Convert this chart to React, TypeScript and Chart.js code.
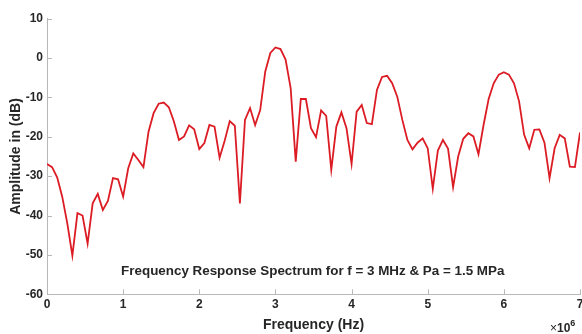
import React, { useEffect, useRef } from 'react';
import { Chart, registerables } from 'chart.js';

Chart.register(...registerables);

// Sampling grid of the spectrum (MHz between samples)
const FREQ_STEP_MHZ = 1 / 15;

// Amplitude in dB, one value per frequency sample
const amplitudeDb = [
  -26.9, -27.7, -30.3, -35.2, -42.0, -50.2, -39.4, -40.0, -47.1, -36.9,
  -34.5, -38.6, -36.3, -30.5, -30.8, -35.2, -28.0, -24.2, -25.9, -27.7,
  -18.7, -14.0, -11.6, -11.3, -12.5, -16.1, -20.8, -19.9, -17.1, -18.1,
  -23.1, -21.6, -17.0, -17.4, -25.3, -21.0, -16.0, -17.2, -36.9, -15.7,
  -12.7, -17.0, -13.2, -3.4, 1.3, 2.7, 2.3, -0.4, -7.6, -26.3,
  -10.4, -10.4, -17.8, -20.1, -13.3, -14.7, -28.4, -17.4, -13.8, -17.8,
  -26.9, -13.6, -11.9, -16.5, -16.8, -8.1, -4.8, -4.5, -6.4, -9.8,
  -15.7, -20.8, -23.2, -21.5, -20.4, -22.9, -33.2, -23.5, -20.8, -23.0,
  -32.8, -25.0, -20.5, -19.1, -19.9, -24.4, -17.0, -10.4, -6.4, -4.2,
  -3.6, -4.2, -6.4, -11.0, -19.5, -22.9, -18.2, -18.1, -21.5, -30.5,
  -22.9, -19.5, -20.4, -27.6, -27.7, -18.9,
];

const xTickValues = [0, 1, 2, 3, 4, 5, 6, 7];
const yTickValues = [10, 0, -10, -20, -30, -40, -50, -60];

const ANNOTATION = 'Frequency Response Spectrum for f = 3 MHz & Pa = 1.5 MPa';
const ANNOT_X_MHZ = 3.49;
const ANNOT_Y_DB = -54.1;

const FONT = '"Liberation Sans", Arial, Helvetica, sans-serif';
const TEXT = '#262626';
const AXIS = '#b8b8b8';
const LINE = '#dc1c24';

const decorPlugin = {
  id: 'decor',
  afterDraw(chart: any) {
    const { ctx, chartArea, scales } = chart;
    const xs = scales.x;
    const ys = scales.y;
    ctx.save();
    ctx.strokeStyle = AXIS;
    ctx.lineWidth = 1;
    ctx.beginPath();
    for (const v of xTickValues) {
      const px = Math.round(xs.getPixelForValue(v)) + 0.5;
      ctx.moveTo(px, chartArea.bottom);
      ctx.lineTo(px, chartArea.bottom - 5);
    }
    for (const v of yTickValues) {
      const py = Math.round(ys.getPixelForValue(v)) + 0.5;
      ctx.moveTo(chartArea.left, py);
      ctx.lineTo(chartArea.left + 5, py);
    }
    ctx.stroke();

    // annotation text inside the plot
    ctx.fillStyle = TEXT;
    ctx.font = `bold 13.4px ${FONT}`;
    ctx.textAlign = 'center';
    ctx.textBaseline = 'middle';
    ctx.fillText(ANNOTATION, xs.getPixelForValue(ANNOT_X_MHZ), ys.getPixelForValue(ANNOT_Y_DB));

    // exponent label x10^6
    ctx.textAlign = 'left';
    ctx.textBaseline = 'alphabetic';
    let x = chart.width - 32;
    const base = 332;
    ctx.font = `12px ${FONT}`;
    ctx.fillText('×', x, base);
    x += ctx.measureText('×').width;
    ctx.font = `bold 12px ${FONT}`;
    ctx.fillText('10', x, base);
    x += ctx.measureText('10').width;
    ctx.font = `bold 9px ${FONT}`;
    ctx.fillText('6', x, base - 6);
    ctx.restore();
  },
};

export default function App() {
  const ref = useRef<HTMLCanvasElement | null>(null);

  useEffect(() => {
    if (!ref.current) return;
    const points = amplitudeDb.map((y, i) => ({ x: i * FREQ_STEP_MHZ, y }));
    const chart = new Chart(ref.current, {
      type: 'line',
      data: {
        datasets: [
          {
            data: points,
            borderColor: LINE,
            borderWidth: 1.8,
            pointRadius: 0,
            tension: 0,
            fill: false,
          },
        ],
      },
      options: {
        animation: false,
        responsive: false,
        devicePixelRatio: 1,
        layout: { padding: { top: 18.7, right: 2, left: 0, bottom: 0 } },
        plugins: {
          legend: { display: false },
          tooltip: { enabled: false },
        },
        scales: {
          x: {
            type: 'linear',
            min: 0,
            max: 7,
            afterFit: (s: any) => {
              s.height = 39.7;
              s.paddingLeft = 0;
              s.paddingRight = 0;
            },
            afterBuildTicks: (s: any) => {
              s.ticks = xTickValues.map((v) => ({ value: v }));
            },
            grid: { display: false, drawTicks: false },
            border: { display: true, color: AXIS, width: 1 },
            ticks: {
              color: TEXT,
              font: { family: FONT, size: 12, weight: 'bold' },
              padding: 3,
              maxRotation: 0,
              autoSkip: false,
            },
            title: {
              display: true,
              text: 'Frequency (Hz)',
              color: TEXT,
              font: { family: FONT, size: 14, weight: 'bold', lineHeight: 1.2 },
              padding: { top: 0, bottom: 0 },
            },
          },
          y: {
            type: 'linear',
            min: -60,
            max: 10,
            afterFit: (s: any) => {
              s.width = 47;
              s.paddingTop = 0;
              s.paddingBottom = 0;
            },
            afterBuildTicks: (s: any) => {
              s.ticks = yTickValues.map((v) => ({ value: v }));
            },
            grid: { display: false, drawTicks: false },
            border: { display: true, color: AXIS, width: 1 },
            ticks: {
              color: TEXT,
              font: { family: FONT, size: 12, weight: 'bold' },
              padding: 4,
              autoSkip: false,
            },
            title: {
              display: true,
              text: 'Amplitude in (dB)',
              color: TEXT,
              font: { family: FONT, size: 14, weight: 'bold', lineHeight: 1.2 },
              padding: { top: 7.6, bottom: 0 },
            },
          },
        },
      },
      plugins: [decorPlugin],
    });
    return () => chart.destroy();
  }, []);

  return (
    <div style={{ position: 'fixed', left: 0, top: 0, width: 582, height: 334, background: '#fff' }}>
      <canvas ref={ref} width={582} height={334} />
    </div>
  );
}
